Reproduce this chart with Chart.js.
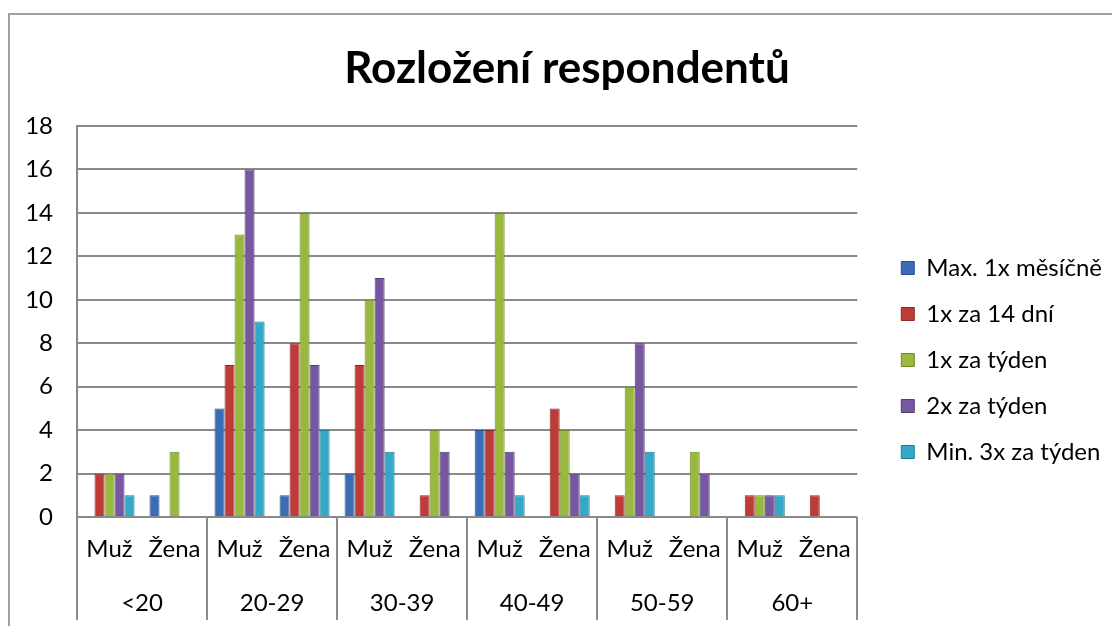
<!DOCTYPE html>
<html lang="cs">
<head>
<meta charset="utf-8">
<title>Rozložení respondentů</title>
<script src="https://cdn.jsdelivr.net/npm/chart.js"></script>
<style>
    html, body { margin: 0; padding: 0; background: #ffffff; }
    #wrap { position: relative; width: 1112px; height: 626px; }
</style>
</head>
<body>
<div id="wrap"><canvas id="chart"></canvas></div>
<script>
// --- DATA ---
const categories = ['Muž', 'Žena', 'Muž', 'Žena', 'Muž', 'Žena', 'Muž', 'Žena', 'Muž', 'Žena', 'Muž', 'Žena'];
const ageGroups = ['<20', '20-29', '30-39', '40-49', '50-59', '60+'];
const seriesNames = ['Max. 1x měsíčně', '1x za 14 dní', '1x za týden', '2x za týden', 'Min. 3x za týden'];

const maxMesicne = [0, 1, 5, 1, 2, 0, 4, 0, 0, 0, 0, 0];
const za14dni    = [2, 0, 7, 8, 7, 1, 4, 5, 1, 0, 1, 1];
const jednouTyden = [2, 3, 13, 14, 10, 4, 14, 4, 6, 3, 1, 0];
const dvakratTyden = [2, 0, 16, 7, 11, 3, 3, 2, 8, 2, 1, 0];
const min3xTyden = [1, 0, 9, 4, 3, 0, 1, 1, 3, 0, 1, 0];

const yMin = 0, yMax = 18, yStep = 2;

// --- STYLE ---
const FONT = 'Lato, "DejaVu Sans", sans-serif';
const GRID = '#8a8a8a';
const fills   = ['#3b6db4', '#bf3b38', '#98b83e', '#7657a0', '#33a9c7'];
const borders = ['#27528f', '#8f2a28', '#6f8a2a', '#543c78', '#207d96'];

const seriesValues = [maxMesicne, za14dni, jednouTyden, dvakratTyden, min3xTyden];

const datasets = seriesValues.map((vals, i) => ({
    label: seriesNames[i],
    data: vals,
    backgroundColor: fills[i],
    borderColor: borders[i],
    borderWidth: 1,
    barPercentage: 1.0,
    categoryPercentage: 0.77
}));

// outer frame + title drawn on the canvas
const framePlugin = {
    id: 'frame',
    beforeDraw(chart) {
        const ctx = chart.ctx;
        ctx.save();
        ctx.strokeStyle = '#a0a0a0';
        ctx.lineWidth = 2;
        ctx.beginPath();
        ctx.moveTo(9, chart.height);
        ctx.lineTo(9, 14);
        ctx.lineTo(chart.width, 14);
        ctx.stroke();
        ctx.restore();
    },
    afterDraw(chart) {
        const ctx = chart.ctx;
        ctx.save();
        ctx.fillStyle = '#000000';
        ctx.font = 'bold 44px ' + FONT;
        ctx.textAlign = 'center';
        ctx.textBaseline = 'middle';
        ctx.fillText('Rozložení respondentů', 567, 69);
        ctx.restore();
    }
};

const ctx = document.getElementById('chart').getContext('2d');
new Chart(ctx, {
    type: 'bar',
    data: { labels: categories, datasets: datasets },
    options: {
        responsive: true,
        maintainAspectRatio: false,
        animation: false,
        layout: { padding: { top: 100, left: 9, right: 0, bottom: 6 } },
        scales: {
            x: {
                type: 'category',
                position: 'bottom',
                grid: {
                    display: true,
                    offset: true,
                    drawOnChartArea: false,
                    drawTicks: true,
                    tickLength: 58,
                    lineWidth: 2,
                    // only the age-group boundaries get a divider
                    color: (c) => (c.type !== 'tick' || c.index % 2 === 0) ? GRID : 'rgba(0,0,0,0)'
                },
                border: { display: false },
                ticks: { color: '#000', font: { family: FONT, size: 24 }, padding: -40, maxRotation: 0, autoSkip: false },
                afterFit: (s) => { s.height = 58; }
            },
            x2: {
                type: 'category',
                position: 'bottom',
                labels: ageGroups,
                offset: true,
                grid: {
                    display: true,
                    offset: true,
                    drawOnChartArea: false,
                    drawTicks: true,
                    tickLength: 45,
                    lineWidth: 2,
                    color: GRID
                },
                border: { display: false },
                ticks: { color: '#000', font: { family: FONT, size: 24 }, padding: -31, maxRotation: 0, autoSkip: false },
                afterFit: (s) => { s.height = 45; }
            },
            xTop: {
                type: 'category',
                position: 'top',
                labels: ageGroups,
                display: true,
                grid: { display: false },
                border: { display: false },
                ticks: { display: false },
                afterFit: (s) => { s.height = 26; }
            },
            y: {
                min: yMin,
                max: yMax,
                ticks: { stepSize: yStep, color: '#000', font: { family: FONT, size: 24 }, padding: 24 },
                grid: { color: GRID, lineWidth: 2, drawTicks: false },
                border: { display: true, color: GRID, width: 2 },
                afterFit: (s) => { s.width = 68; }
            },
            yPad: {
                type: 'linear',
                position: 'right',
                display: true,
                grid: { display: false },
                border: { display: false },
                ticks: { display: false },
                afterFit: (s) => { s.width = 22; }
            }
        },
        plugins: {
            title: { display: false },
            tooltip: { enabled: false },
            legend: {
                position: 'right',
                maxWidth: 320,
                labels: {
                    color: '#000',
                    font: { family: FONT, size: 24 },
                    boxWidth: 13,
                    boxHeight: 13,
                    padding: 22
                }
            }
        }
    },
    plugins: [framePlugin]
});
</script>
</body>
</html>
